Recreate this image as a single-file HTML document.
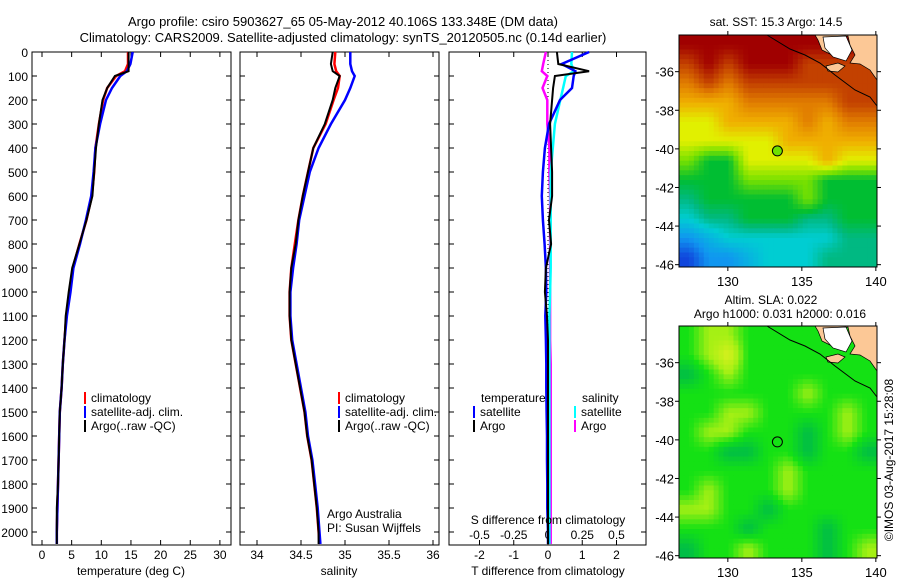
<!DOCTYPE html>
<html><head><meta charset="utf-8"><style>
body{margin:0;background:#fff}
svg{display:block;font-family:"Liberation Sans",sans-serif}
</style></head><body>
<svg id="fig" width="900" height="580" viewBox="0 0 900 580">
<text x="343" y="26" font-size="13" text-anchor="middle">Argo profile: csiro 5903627_65 05-May-2012 40.106S 133.348E (DM data)</text>
<text x="343" y="42" font-size="13" text-anchor="middle">Climatology: CARS2009. Satellite-adjusted climatology: synTS_20120505.nc (0.14d earlier)</text>
<g id="g"></g>
</svg>
<script>
const depths=[0,50,80,100,150,200,300,400,500,600,700,800,900,1000,1100,1200,1300,1400,1500,1600,1700,1800,1900,2000,2050];
const tempClim=[14.5,14.5,14.0,12.5,11.0,10.3,9.6,9.0,8.8,8.4,7.5,6.3,5.2,4.6,4.1,3.8,3.5,3.3,3.0,2.9,2.8,2.7,2.6,2.5,2.5];
const tempSat=[15.3,14.9,14.3,13.2,11.8,10.8,9.8,9.0,8.7,8.3,7.4,6.4,5.3,4.8,4.2,3.8,3.5,3.3,3.0,2.9,2.8,2.7,2.6,2.5,2.5];
const tempArgo=[14.6,14.6,14.6,12.3,11.0,10.2,9.6,9.1,8.8,8.5,7.5,6.3,5.1,4.5,4.0,3.8,3.5,3.3,3.0,2.9,2.8,2.7,2.5,2.5,2.5];
const salClim=[34.89,34.88,34.90,34.94,34.92,34.87,34.78,34.64,34.58,34.52,34.47,34.43,34.39,34.37,34.37,34.39,34.44,34.49,34.54,34.57,34.62,34.65,34.68,34.70,34.71];
const salSat=[35.06,35.06,35.08,35.11,35.06,35.00,34.84,34.70,34.60,34.54,34.48,34.45,34.41,34.38,34.38,34.40,34.45,34.50,34.55,34.58,34.63,34.66,34.69,34.71,34.72];
const salArgo=[34.86,34.84,34.86,34.94,34.89,34.86,34.77,34.64,34.58,34.52,34.47,34.44,34.39,34.37,34.37,34.39,34.44,34.49,34.54,34.57,34.62,34.65,34.68,34.70,34.70];
const dT_sat=[1.2,0.4,0.8,0.75,0.7,0.35,0.03,-0.09,-0.15,-0.18,-0.15,-0.1,-0.06,-0.05,-0.08,-0.06,-0.05,-0.05,-0.04,-0.03,-0.03,-0.02,-0.02,0,0];
const dT_argo=[0.26,0.3,1.2,0.2,0.15,0.12,0.06,0.09,0.12,0.12,0.03,0.09,-0.06,-0.09,-0.03,0,0,0,0,0,0,0,0,0,0];
const dS_sat=[0.175,0.17,0.19,0.13,0.11,0.09,0.05,0.035,0.02,0.02,0.02,0.02,0.02,0.015,0.01,0.01,0.01,0.01,0.01,0.01,0.01,0.01,0.01,0.01,0.01];
const dS_argo=[-0.015,-0.035,-0.045,-0.005,-0.04,-0.005,-0.005,0.01,0.01,0.015,0.015,0.015,0.015,0.015,0.015,0.015,0.02,0.02,0.02,0.02,0.02,0.02,0.02,0.02,0.02];
const depthTicks=[0,100,200,300,400,500,600,700,800,900,1000,1100,1200,1300,1400,1500,1600,1700,1800,1900,2000];
const tempTicks=[0,5,10,15,20,25,30];
const salTicks=[34,34.5,35,35.5,36];
const salTickLabels=["34","34.5","35","35.5","36"];
const tdTicks=[-2,-1,0,1,2];
const sdTicks=[-0.5,-0.25,0,0.25,0.5];
const sdTickLabels=["-0.5","-0.25","0","0.25","0.5"];
const sstGrid=[
[9,9,9,9,9,9,9,9,9,9],
[8,9,8,9,9,9,8,8,8,8],
[7,8,7,8,8,8,8,8,8,8],
[6,6,6,7,7,7,7,7,8,8],
[5,5,6,6,6,6,7,6,7,7],
[5,5,5,5,5,6,6,6,6,6],
[4,3,3,5,5,5,5,6,5,5],
[3,3,3,4,4,4,4,3,3,3],
[2.5,3,3,3,3,3,4,3,3,3],
[2,2.5,2.5,3,3,3,2.5,2.5,3,3],
[1,1.5,2,2,2,2,2,2,2.5,2.5],
[0,1,1,1.5,2,2,2,2.5,2.5,2.5]];
const slaGrid=[
[1,2,2,1,1,1,1,1,1,1],
[1,2,3,1,1,1,1,1,1,1],
[0,1,2,1,1,1,1,1,1,1],
[1,1,1,1,1,1,2,1,1,1],
[1,1,2,2,1,1,1,1,2,1],
[1,2,2,1,1,1,0,1,2,1],
[1,1,0,0,1,1,0,1,1,0],
[1,1,1,1,1,2,1,1,1,1],
[1,2,1,1,1,2,1,1,1,1],
[2,2,1,1,0,1,1,1,1,1],
[1,1,1,0,1,1,1,0,1,1],
[0,1,1,2,1,1,1,0,1,2]];
const lonTicks=[130,135,140];
const latTicks=[-36,-38,-40,-42,-44,-46];
const argoLon=133.348, argoLat=-40.106;

const NS="http://www.w3.org/2000/svg";
const G=document.getElementById('g');
function mk(t,a,p){const e=document.createElementNS(NS,t);for(const k in a)e.setAttribute(k,a[k]);(p||G).appendChild(e);return e;}
const yD=d=>52+d*0.24;
const PT=52,PB=545;
function panel(x0,x1,name){
  const r=mk('rect',{x:x0,y:PT,width:x1-x0,height:PB-PT,fill:'none',stroke:'#000','stroke-width':1});
  
  
  depthTicks.forEach(d=>{mk('line',{x1:x0,x2:x0+5,y1:yD(d),y2:yD(d),stroke:'#000'});mk('line',{x1:x1,x2:x1-5,y1:yD(d),y2:yD(d),stroke:'#000'});});
}
function txt(x,y,s,o){const e=mk('text',Object.assign({x:x,y:y,'font-size':12},o||{}));e.textContent=s;return e;}
function line(xs,xf,col,w,name){
  const pts=depths.map((d,i)=>xf(xs[i]).toFixed(1)+','+yD(d).toFixed(1)).join(' ');
  const e=mk('polyline',{points:pts,fill:'none',stroke:col,'stroke-width':w,'stroke-linejoin':'miter'});
  
  
}
// panel 1
const xT=t=>42+t*5.93;
panel(32,231,'temperature-panel');
depthTicks.forEach(d=>{const e=txt(28,yD(d)+5,String(d),{'text-anchor':'end'});});
tempTicks.forEach(t=>{mk('line',{x1:xT(t),x2:xT(t),y1:PB,y2:PB-5,stroke:'#000'});mk('line',{x1:xT(t),x2:xT(t),y1:PT,y2:PT+5,stroke:'#000'});const e=txt(xT(t),559,String(t),{'text-anchor':'middle'});});
line(tempClim,xT,'#f00',2.5,'temp-climatology-line');
line(tempSat,xT,'#00f',2.5,'temp-satellite-line');
line(tempArgo,xT,'#000',2,'temp-argo-line');
{const e=txt(131,575,'temperature (deg C)',{'text-anchor':'middle'});}
function legend(x,y,items,name){
  items.forEach((it,i)=>{mk('rect',{x:x,y:y+i*14-10,width:2,height:12,fill:it[0]});const e=txt(x+7,y+i*14,it[1]);});
}
legend(84,402,[['#f00','climatology'],['#00f','satellite-adj. clim.'],['#000','Argo(..raw -QC)']],'temp-legend');
// panel 2
const xS=s=>257+(s-34)*88;
panel(240,439,'salinity-panel');
salTicks.forEach((s,i)=>{mk('line',{x1:xS(s),x2:xS(s),y1:PB,y2:PB-5,stroke:'#000'});mk('line',{x1:xS(s),x2:xS(s),y1:PT,y2:PT+5,stroke:'#000'});const e=txt(xS(s),559,salTickLabels[i],{'text-anchor':'middle'});});
line(salClim,xS,'#f00',2.5,'sal-climatology-line');
line(salSat,xS,'#00f',2.5,'sal-satellite-line');
line(salArgo,xS,'#000',2,'sal-argo-line');
{const e=txt(339,575,'salinity',{'text-anchor':'middle'});}
legend(338,402,[['#f00','climatology'],['#00f','satellite-adj. clim.'],['#000','Argo(..raw -QC)']],'sal-legend');
{const e=txt(327,518,'Argo Australia');}
{const e=txt(327,532,'PI: Susan Wijffels');}
// panel 3
const xTd=t=>548+t*34.25, xSd=s=>548+s*137;
panel(449,646,'difference-panel');
tdTicks.forEach(t=>{mk('line',{x1:xTd(t),x2:xTd(t),y1:PB,y2:PB-5,stroke:'#000'});mk('line',{x1:xTd(t),x2:xTd(t),y1:PT,y2:PT+5,stroke:'#000'});const e=txt(xTd(t),559,String(t),{'text-anchor':'middle'});});
sdTicks.forEach((s,i)=>{const e=txt(xSd(s),539,sdTickLabels[i],{'text-anchor':'middle'});});
mk('line',{x1:548,x2:548,y1:PT,y2:PB,stroke:'#000','stroke-dasharray':'1,3'});
line(dS_argo,xSd,'#f0f',2.5,'sdiff-argo-line');
line(dS_sat,xSd,'#0ff',2.5,'sdiff-satellite-line');
line(dT_sat,xTd,'#00f',2.5,'tdiff-satellite-line');
line(dT_argo,xTd,'#000',2,'tdiff-argo-line');
{const e=txt(548,524,'S difference from climatology',{'text-anchor':'middle'});}
{const e=txt(548,575,'T difference from climatology',{'text-anchor':'middle'});}
{const e=txt(481,402,'temperature');}
{const e=txt(582,402,'salinity');}
legend(473,416,[['#00f','satellite'],['#000','Argo']],'diff-legend-temp');
legend(574,416,[['#0ff','satellite'],['#f0f','Argo']],'diff-legend-sal');
// maps
const sstStops=[[0,[16,70,220]],[1,[16,150,240]],[2,[0,205,210]],[2.5,[0,185,130]],[3,[0,190,50]],[4,[120,225,0]],[5,[225,240,0]],[6,[240,175,0]],[7,[225,125,0]],[8,[195,65,0]],[9,[160,0,0]]];
function stopCol(stops,v){for(let i=1;i<stops.length;i++){if(v<=stops[i][0]){const a=stops[i-1],b=stops[i],f=Math.max(0,(v-a[0])/(b[0]-a[0]));return 'rgb('+a[1].map((c,j)=>Math.round(c+(b[1][j]-c)*f)).join(',')+')';}}return 'rgb('+stops[stops.length-1][1].join(',')+')';}
const sstCol=v=>stopCol(sstStops,v);
const slaStops=[[0,[0,190,70]],[1,[20,225,20]],[2,[165,240,20]],[3,[220,240,30]]];
const slaCol=v=>stopCol(slaStops,v);
function sample(grid,fr,fc){
  const R=grid.length,C=grid[0].length;
  const r=Math.min(Math.max(fr,0),R-1),c=Math.min(Math.max(fc,0),C-1);
  const r0=Math.floor(r),c0=Math.floor(c),r1=Math.min(r0+1,R-1),c1=Math.min(c0+1,C-1),a=r-r0,b=c-c0;
  return grid[r0][c0]*(1-a)*(1-b)+grid[r0][c1]*(1-a)*b+grid[r1][c0]*a*(1-b)+grid[r1][c1]*a*b;
}
function map(y0,grid,colf,name,title,marker){
  const x0=679,x1=877,y1=y0+232;
  const lonX=l=>679+(l-126.7)*14.8, latY=la=>y0+(-34.1-la)*19.3;
  const gg=mk('g',{});
  
  
  const SUB=4,rows=grid.length*SUB,cols=grid[0].length*SUB,cw=(x1-x0)/cols,ch=(y1-y0)/rows;
  for(let r=0;r<rows;r++)for(let c=0;c<cols;c++){
    const v=sample(grid,(r+0.5)/SUB-0.5,(c+0.5)/SUB-0.5);
    mk('rect',{x:(x0+c*cw).toFixed(2),y:(y0+r*ch).toFixed(2),width:(cw+0.5).toFixed(2),height:(ch+0.5).toFixed(2),fill:colf(v)},gg);
  }
  mk('polygon',{points:`815,${y0} 877,${y0} 877,${y0+45} 870,${y0+35} 860,${y0+29} 850,${y0+28} 855,${y0+20} 850,${y0+10} 848,${y0+1} 840,${y0+2} 835,${y0+15} 832,${y0+20} 822,${y0+15} 818,${y0+5}`,fill:'#fcc896',stroke:'#000','stroke-width':0.7},gg);
  mk('polygon',{points:`823,${y0+2} 846,${y0+1} 852,${y0+15} 846,${y0+26} 833,${y0+22} 825,${y0+13}`,fill:'#fff',stroke:'#000','stroke-width':0.7},gg);
  mk('polygon',{points:`826,${y0+31} 838,${y0+28} 845,${y0+31} 838,${y0+37} 828,${y0+36}`,fill:'#fcc896',stroke:'#000','stroke-width':0.7},gg);
  mk('polyline',{points:`767,${y0} 790,${y0+14} 805,${y0+20} 820,${y0+28} 835,${y0+40} 855,${y0+55} 870,${y0+62} 877,${y0+71}`,fill:'none',stroke:'#000','stroke-width':1},gg);
  const c=mk('circle',{cx:lonX(argoLon),cy:latY(argoLat),r:5,fill:marker,stroke:'#000'},gg);
  
  
  mk('rect',{x:x0,y:y0,width:x1-x0,height:y1-y0,fill:'none',stroke:'#000'},gg);
  lonTicks.forEach(l=>{mk('line',{x1:lonX(l),x2:lonX(l),y1:y1,y2:y1+4,stroke:'#000'});mk('line',{x1:lonX(l),x2:lonX(l),y1:y0,y2:y0-4,stroke:'#000'});const e=txt(lonX(l),y1+19,String(l),{'text-anchor':'middle','font-size':13});});
  latTicks.forEach(la=>{mk('line',{x1:x0,x2:x0-4,y1:latY(la),y2:latY(la),stroke:'#000'});mk('line',{x1:x1,x2:x1+4,y1:latY(la),y2:latY(la),stroke:'#000'});const e=txt(674,latY(la)+5,String(la),{'text-anchor':'end','font-size':13});});
  title.forEach(t=>{const e=txt(t[1],t[2],t[0],{'text-anchor':'middle'});});
}
map(35,sstGrid,sstCol,'sst-map',[['sat. SST: 15.3 Argo: 14.5',776,26]],'#70e000');
map(326,slaGrid,slaCol,'sla-map',[['Altim. SLA: 0.022',771,304],['Argo h1000: 0.031 h2000: 0.016',780,318]],'none');
{const e=txt(893,460,'©IMOS 03-Aug-2017 15:28:08',{'text-anchor':'middle','transform':'rotate(-90 893 460)'});}
</script>
</body></html>
